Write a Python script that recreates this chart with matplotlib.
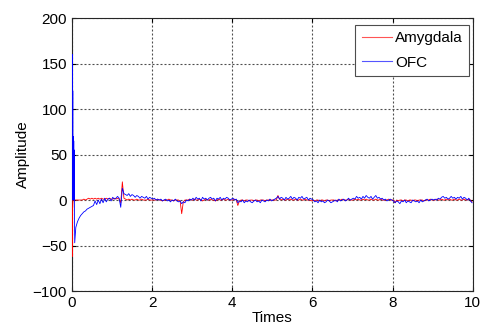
import numpy as np
import matplotlib
matplotlib.use("Agg")
import matplotlib.pyplot as plt
from matplotlib.lines import Line2D

plt.rcParams['font.family'] = ['Liberation Sans', 'DejaVu Sans']

# start of each record (dense samples), then 0.04 s samples from t = 0.10
ofc_head_t = [0, 0.012, 0.018, 0.024, 0.03, 0.036, 0.042, 0.048, 0.054, 0.06,
              0.066, 0.072, 0.08, 0.09]
ofc_head = [0, 160, 10, 120, 0, 70, 5, 65, 0, 55, -15, -47, -42, -36]

amy_head_t = [0, 0.012, 0.02, 0.03, 0.05, 0.07, 0.09]
amy_head = [0, -62, -10, 0, 0, 0, 0]

body_start = 0.10
body_step = 0.04

ofc_body = [
    -30, -24, -20, -17, -15, -13, -12, -10, -9, -8, -7, -6, -1, -5, 0, -4, 1, -3, 2, -2, 1, 2, -1,
    3, 1, 2, 4, 2, -8, 13, 7, 6, 5, 7, 4, 6, 5, 3, 5, 4, 2, 4, 3, 2, 4, 1, 3, 2,
    1, 2, 0, 1, 0, 1, -1, 0, 1, -1, 0, -2, 0, -1, 1, -1, -2, -1, -4, -2, -3, 0, -1, 1, 0,
    2, 0, 3, 1, 2, -1, 3, 1, 2, 0, 2, 3, 1, 2, -1, 2, 1, 3, 0, 2, 1, 3, 2, 0, 1,
    2, 0, 1, -3, -1, -2, 0, -3, -1, -2, 0, -2, -3, -1, 0, -2, -1, -3, 0, -1, -2, 0, -1, 1, -1,
    0, 1, 2, 4, 1, 3, 2, 0, 3, 1, 2, 4, 1, 3, 2, 0, 3, 2, 4, 1, 2, 3, 0, 2, 1,
    0, -2, -1, -3, 0, -2, -1, -3, -2, 0, -1, -3, -2, -1, 0, -2, 1, -1, 0, 1, -1, 0, 2, 0, 1,
    2, 1, 4, 2, 3, 1, 4, 2, 5, 3, 2, 4, 1, 3, 5, 2, 3, 1, 2, 0, 1, -1, 0, 1, 0,
    -1, -3, -1, -2, -4, -1, -2, 0, -3, -1, -2, -3, 0, -1, -2, -1, -3, 0, -2, -1, 0, 1, -1, 0, 1,
    0, 1, 0, 2, 1, 3, 4, 2, 3, 1, 2, 4, 2, 3, 1, 3, 2, 4, 1, 3, 2, 0, 2, -1, -3,
]

amy_body = [
    0, 0, 0, 0, 0, 1, 0, 1, 2, 1, 2, 1, 2, 1, 2, 1, 2, 1, 1, 2, 1, 2, 1,
    1, 2, 1, 2, 1, -3, 20, 2, 1, 0, 1, 0, 1, 0, 0, 1, 0, 0, 1, 0, 0, 0, 1, 0, 0,
    0, 0, 0, 1, 0, 0, -1, 0, 0, 0, 1, 0, 0, -1, 0, 0, 0, -1, -15, -2, 0, 0, 0, 1, 0,
    0, 1, 0, 0, 1, 0, -1, 0, 1, 0, 0, 1, 0, 0, -1, 0, 1, 0, 0, 1, 0, 0, 1, 0, 0,
    0, 1, 0, -6, -1, 0, 0, -1, 0, 0, -1, 0, 0, -1, 0, 0, -1, 0, 0, 0, -1, 0, 0, 0, 0,
    0, 0, 0, 5, 1, 0, 1, 0, 0, 1, 0, 1, 0, 0, 1, 0, 0, 1, 0, 0, 1, 0, 0, 0, -1,
    0, -1, 0, 0, -1, 0, 0, -1, 0, 0, -1, 0, 0, 0, -1, 0, 0, 0, 1, 0, 0, 0, 1, 0, 0,
    0, 1, 0, 1, 0, 0, 1, 0, 1, 0, 0, 1, 0, 0, 1, 0, 0, 1, 0, 0, 0, 0, 1, 0, 0,
    0, -3, 0, -1, 0, 0, -1, 0, 0, -1, 0, 0, -1, 0, 0, -1, 0, 0, 0, -1, 0, 0, 0, 1, 0,
    0, 0, 1, 0, 0, 1, 0, 0, 1, 0, 1, 0, 0, 1, 0, 0, 1, 0, 0, 1, 0, 0, 1, 0, -2,
]


def full_series(head_t, head_v, body):
    t = list(head_t) + list(body_start + body_step * np.arange(len(body)))
    return np.array(t), np.array(list(head_v) + list(body), dtype=float)


t_amy, v_amy = full_series(amy_head_t, amy_head, amy_body)
t_ofc, v_ofc = full_series(ofc_head_t, ofc_head, ofc_body)

fig = plt.figure(figsize=(4.82, 3.29), dpi=100)
ax = fig.add_axes([0.149, 0.1155, 0.832, 0.8295])

# MATLAB draws the traces over the axes box
ax.plot(t_amy, v_amy, color='r', lw=0.6, zorder=3)
ax.plot(t_ofc, v_ofc, color='b', lw=0.6, zorder=3)

ax.set_xlim(0, 10)
ax.set_ylim(-100, 200)
ax.set_xticks(np.arange(0, 11, 2))
ax.set_yticks(np.arange(-100, 201, 50))
ax.grid(True, linestyle=(0, (1.8, 1.8)), color='0.3', linewidth=0.8)
ax.tick_params(direction='in', top=True, right=True, labelsize=11, length=3)
for s in ax.spines.values():
    s.set_linewidth(0.8)
    s.set_color('0.15')

ax.set_xlabel('Times', fontsize=11, labelpad=1)
ax.set_ylabel('Amplitude', fontsize=11, labelpad=2)

handles = [Line2D([], [], color='#ff5555', lw=0.8, linestyle='-'),
           Line2D([], [], color='#5555ff', lw=0.8, linestyle='-')]
leg = ax.legend(handles, ['Amygdala', 'OFC'], loc='upper right', fontsize=11,
                fancybox=False, framealpha=1, edgecolor='0.3',
                handlelength=2.0, borderpad=0.4, labelspacing=0.7,
                handletextpad=0.2, borderaxespad=0,
                bbox_to_anchor=(469 / 482, 1 - 25 / 329),
                bbox_transform=fig.transFigure)
leg.get_frame().set_linewidth(0.8)
leg.set_zorder(5)

fig.savefig('out.png', dpi=100)
